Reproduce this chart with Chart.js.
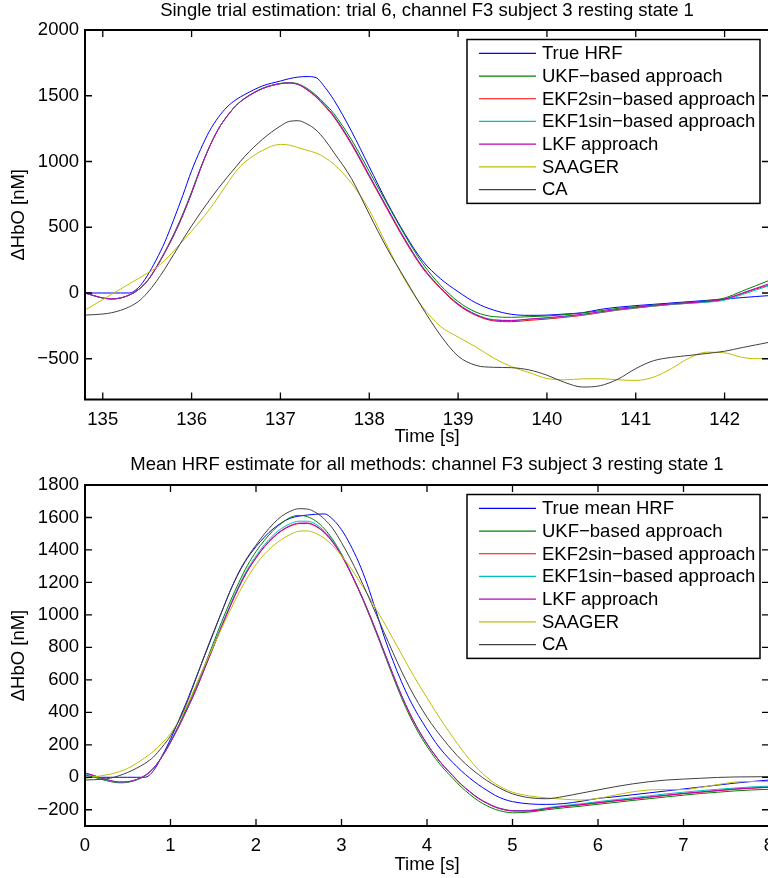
<!DOCTYPE html>
<html>
<head>
<meta charset="utf-8">
<script src="https://cdn.jsdelivr.net/npm/chart.js@4/dist/chart.umd.min.js"></script>
<style>
  html, body { margin:0; padding:0; background:#fff; overflow:hidden; width:768px; height:878px; }
  canvas { position:absolute; left:0; }
  #top { top:0; }
  #bot { top:440px; }
</style>
</head>
<body>
<canvas id="top" width="790" height="450" style="width:790px;height:450px"></canvas>
<canvas id="bot" width="790" height="438" style="width:790px;height:438px"></canvas>
<script>
// ---------- data: single trial (top) ----------
const tTop = [134.8,135.0,135.1,135.2,135.3,135.4,135.5,135.6,135.7,135.8,135.9,136.0,136.1,136.2,136.3,136.4,136.5,136.6,136.8,137.0,137.1,137.2,137.3,137.4,137.5,137.6,137.8,138.0,138.2,138.4,138.6,138.8,139.0,139.2,139.4,139.6,139.8,140.0,140.2,140.4,140.6,140.8,141.0,141.2,141.4,141.6,141.8,142.0,142.2,142.35,142.5];
const trueTop   = [0,0,0,0,0,40,130,250,390,560, 740,930,1090,1230,1335, 1415,1470,1510,1575,1612, 1630,1642,1646,1638,1565, 1470,1230,960,690,450, 245,110,10,-75,-130, -162,-170,-168,-160,-150, -125,-108,-96,-86,-76, -66,-56,-46,-35,-27, -20];
const ukfTop    = [0,-38,-45,-38,-15,25,90,195,315,450, 600,770,950,1110,1245, 1345,1425,1482,1557,1594, 1600,1590,1556,1505,1440, 1365,1165,925,680,440, 225,60,-65,-145,-180, -185,-180,-175,-165,-152, -135,-117,-104,-92,-82, -72,-60,-38,15,55, 95];
const ekf2Top   = [0,-38,-45,-38,-15,25,90,190,310,440, 590,760,945,1110,1245, 1345,1425,1480,1555,1592, 1597,1585,1545,1490,1420, 1340,1130,885,640,400, 190,35,-90,-170,-212, -218,-208,-198,-185,-170, -150,-130,-115,-100,-88, -78,-68,-48,-5,30, 60];
const ekf1Top   = [0,-38,-45,-38,-15,25,90,190,310,440, 590,760,945,1110,1245, 1345,1425,1480,1555,1592, 1597,1587,1550,1496,1428, 1350,1142,898,652,412, 200,42,-82,-162,-203, -208,-200,-192,-180,-166, -147,-128,-113,-99,-87, -78,-70,-55,-12,22, 55];
const lkfTop    = [0,-38,-45,-38,-15,25,90,190,310,440, 590,760,945,1110,1245, 1345,1425,1480,1555,1592, 1597,1586,1548,1494,1425, 1346,1138,893,648,408, 196,40,-85,-165,-206, -210,-198,-188,-176,-162, -143,-124,-109,-95,-83, -74,-64,-45,0,35, 70];
const saagerTop = [-130,-50,-10,30,70,110,150,190,250,320, 395,470,550,635,730, 830,925,995,1085,1130, 1125,1105,1085,1065,1030, 980,835,630,360,100, -105,-253,-335,-410,-495, -560,-605,-650,-660,-653, -652,-660,-665,-640,-575, -495,-450,-455,-490,-500, -498];
const caTop     = [-168,-160,-150,-132,-105,-65,0,85,185,295, 405,510,610,705,795, 880,960,1040,1170,1270, 1305,1310,1285,1240,1165, 1070,870,600,340,110, -115,-320,-480,-550,-565, -568,-585,-625,-680,-715, -705,-655,-575,-515,-490, -475,-460,-443,-415,-395, -375];
const xTicksTop = [135,136,137,138,139,140,141,142];
const yTicksTop = [-500,0,500,1000,1500,2000];

// ---------- data: mean HRF (bottom) ----------
const tBot = [0,0.1,0.2,0.3,0.4,0.5,0.6,0.7,0.8,0.9,1.0,1.1,1.2,1.3,1.4,1.5,1.6,1.7,1.8,1.9,2.0,2.1,2.2,2.3,2.4,2.5,2.6,2.7,2.8,2.9,3.0,3.1,3.2,3.3,3.4,3.5,3.6,3.7,3.8,3.9,4.0,4.1,4.2,4.3,4.4,4.5,4.6,4.7,4.8,4.9,5.0,5.2,5.4,5.6,5.8,6.0,6.2,6.4,6.6,6.8,7.0,7.2,7.4,7.6,7.8,8.0];
const trueBot   = [0,0,0,0,0,0,0,0,40,130, 235,355,480,615,750, 885,1020,1150,1260,1350, 1420,1480,1530,1568,1595, 1608,1615,1620,1622,1588, 1525,1435,1325,1190,1030, 865,720,590,476,380, 295,215,148,92,40, -5,-45,-80,-112,-135, -150, -164,-167,-162,-148,-130, -120,-108,-96,-84,-72, -60,-48,-36,-26,-17];
const ukfBot    = [15,2,-14,-27,-34,-31,-17,8,55,128, 220,325,440,560,690, 825,960,1085,1200,1305, 1390,1460,1520,1565,1600, 1613,1605,1578,1530,1462, 1375,1270,1155,1030,898, 760,623,492,375,275, 190,115,50,-5,-60, -105,-145,-175,-198,-212, -219, -214,-200,-188,-178,-166, -155,-143,-132,-121,-110, -100,-92,-84,-78,-74];
const ekf2Bot   = [25,10,-8,-22,-30,-28,-15,10,55,125, 215,315,425,540,670, 800,930,1055,1170,1270, 1350,1420,1475,1518,1547, 1562,1563,1545,1505,1445, 1365,1265,1155,1035,905, 770,635,505,390,290, 205,130,65,10,-45, -90,-130,-160,-185,-200, -208, -208,-193,-180,-170,-158, -146,-135,-123,-112,-101, -92,-83,-74,-67,-62];
const ekf1Bot   = [22,8,-10,-23,-31,-29,-15,10,55,126, 216,317,428,545,675, 806,937,1063,1180,1282, 1363,1434,1490,1533,1562, 1577,1577,1558,1516,1455, 1373,1272,1160,1038,907, 771,636,506,391,291, 206,131,66,11,-44, -89,-128,-158,-182,-197, -205, -203,-188,-174,-163,-150, -138,-126,-114,-102,-92, -82,-74,-66,-59,-55];
const lkfBot    = [28,12,-6,-20,-29,-27,-14,11,56,126, 216,316,426,542,672, 802,932,1057,1172,1272, 1353,1423,1478,1521,1550, 1565,1566,1548,1508,1448, 1368,1268,1158,1038,908, 772,637,507,392,292, 207,132,67,12,-43, -88,-128,-158,-183,-198, -206, -206,-192,-179,-168,-156, -144,-133,-121,-110,-99, -90,-81,-72,-66,-61];
const saagerBot = [-6,2,10,20,34,55,85,120,160,210, 270,350,450,570,690, 805,920,1030,1135,1230, 1310,1375,1425,1465,1495, 1515,1517,1502,1472,1425, 1365,1295,1215,1130,1040, 950,855,760,665,575, 490,405,325,248,175, 108,48,0,-40,-70, -92, -115,-127,-135,-140,-130, -110,-90,-78,-76,-76, -62,-45,-30,-26,-27];
const caBot     = [-17,-15,-12,-5,10,30,55,85,125,185, 255,350,470,610,755, 890,1020,1150,1265,1355, 1430,1500,1560,1608,1638, 1654,1652,1630,1590,1530, 1445,1350,1245,1130,1010, 890,770,655,550,455, 370,295,228,165,108, 60,18,-20,-52,-80, -102, -126,-132,-118,-98,-78, -58,-41,-27,-17,-11, -6,-1,2,3,4];
const xTicksBot = [0,1,2,3,4,5,6,7,8];
const yTicksBot = [-200,0,200,400,600,800,1000,1200,1400,1600,1800];

const namesTop = ["True HRF","UKF\u2212based approach","EKF2sin\u2212based approach","EKF1sin\u2212based approach","LKF approach","SAAGER","CA"];
const namesBot = ["True mean HRF","UKF\u2212based approach","EKF2sin\u2212based approach","EKF1sin\u2212based approach","LKF approach","SAAGER","CA"];
const colors = ["#0000ff","#008000","#ff0000","#00bfbf","#bf00bf","#bfbf00","#404040"];

const FONT = '"Liberation Sans", Arial, Helvetica, sans-serif';
const FS = 18.5;
Chart.defaults.font.family = FONT;
Chart.defaults.color = "#000";

const fmt = v => String(v).replace("-", "\u2212");

// box round the plot + inward ticks on all four sides
const framePlugin = {
  id: "frame",
  afterDatasetsDraw(chart){
    const {ctx, chartArea:a, scales:{x, y}} = chart;
    ctx.save();
    ctx.strokeStyle = "#000";
    ctx.lineWidth = 1.3;
    ctx.beginPath();
    x.ticks.forEach(t => {
      const px = x.getPixelForValue(t.value);
      ctx.moveTo(px, a.bottom); ctx.lineTo(px, a.bottom - 7);
      ctx.moveTo(px, a.top); ctx.lineTo(px, a.top + 7);
    });
    y.ticks.forEach(t => {
      const py = y.getPixelForValue(t.value);
      ctx.moveTo(a.left, py); ctx.lineTo(a.left + 7, py);
      ctx.moveTo(a.right, py); ctx.lineTo(a.right - 7, py);
    });
    ctx.stroke();
    ctx.lineWidth = 2;
    ctx.strokeRect(a.left, a.top, a.right - a.left, a.bottom - a.top);
    ctx.restore();
  }
};

// boxed legend in the top right corner of the plot
const legendPlugin = {
  id: "boxLegend",
  afterDraw(chart){
    const {ctx, chartArea:a} = chart;
    const ds = chart.data.datasets;
    const rowH = 22.7, w = 293, h = ds.length * rowH + 5;
    const left = a.right - 9 - w, top = a.top + 9.5;
    ctx.save();
    ctx.fillStyle = "#fff";
    ctx.fillRect(left, top, w, h);
    ctx.lineWidth = 1.5; ctx.strokeStyle = "#000";
    ctx.strokeRect(left, top, w, h);
    ctx.font = FS + "px " + FONT;
    ctx.textBaseline = "middle";
    ds.forEach((d, i) => {
      const cy = top + 2.5 + rowH * (i + 0.5);
      ctx.strokeStyle = d.borderColor; ctx.lineWidth = 1.2;
      ctx.beginPath(); ctx.moveTo(left + 12, cy); ctx.lineTo(left + 69, cy); ctx.stroke();
      ctx.fillStyle = "#000";
      ctx.fillText(d.label, left + 75, cy + 0.7);
    });
    ctx.restore();
  }
};

function makeChart(id, c){
  return new Chart(document.getElementById(id), {
    type: "line",
    data: {
      datasets: c.series.map((vals, i) => ({
        label: c.names[i],
        data: c.t.map((t, k) => ({x: t, y: vals[k]})),
        borderColor: colors[i],
        borderWidth: 1,
        pointRadius: 0,
        fill: false,
        cubicInterpolationMode: "monotone",
        order: c.series.length - i
      }))
    },
    options: {
      responsive: false, animation: false, devicePixelRatio: 1, events: [],
      layout: { padding: { left: 0, right: 21, top: 0, bottom: 0 } },
      plugins: {
        legend: { display: false },
        tooltip: { enabled: false },
        title: { display: true, text: c.title, fullSize: false, color: "#000",
                 font: { size: FS, weight: "normal" }, padding: c.titlePad }
      },
      scales: {
        x: {
          type: "linear", min: c.xMin, max: c.xMax,
          afterBuildTicks: s => { s.ticks = c.xTicks.map(v => ({value: v})); },
          afterFit: s => { s.height = c.xH; },
          grid: { display: false, drawTicks: false }, border: { display: false },
          ticks: { color: "#000", font: { size: FS }, padding: 9, autoSkip: false, maxRotation: 0, callback: fmt },
          title: { display: true, text: "Time [s]", color: "#000", font: { size: FS }, padding: { top: 0, bottom: 1.9 } }
        },
        y: {
          type: "linear", min: c.yMin, max: c.yMax,
          afterBuildTicks: s => { s.ticks = c.yTicks.map(v => ({value: v})); },
          afterFit: s => { s.width = 85; },
          grid: { display: false, drawTicks: false }, border: { display: false },
          ticks: { color: "#000", font: { size: FS }, padding: 6, autoSkip: false, callback: fmt },
          title: { display: true, text: "\u0394HbO [nM]", color: "#000", font: { size: FS }, padding: { top: 7.9, bottom: 0 } }
        }
      }
    },
    plugins: [framePlugin, legendPlugin]
  });
}

makeChart("top", {
  title: "Single trial estimation: trial 6, channel F3 subject 3 resting state 1",
  titlePad: { top: 0, bottom: 7.8 },
  t: tTop, names: namesTop,
  series: [trueTop, ukfTop, ekf2Top, ekf1Top, lkfTop, saagerTop, caTop],
  xMin: 134.8, xMax: 142.5, xTicks: xTicksTop, xH: 50.5,
  yMin: -810, yMax: 2000, yTicks: yTicksTop
});

makeChart("bot", {
  title: "Mean HRF estimate for all methods: channel F3 subject 3 resting state 1",
  titlePad: { top: 13.9, bottom: 8.9 },
  t: tBot, names: namesBot,
  series: [trueBot, ukfBot, ekf2Bot, ekf1Bot, lkfBot, saagerBot, caBot],
  xMin: 0, xMax: 8, xTicks: xTicksBot, xH: 52,
  yMin: -300, yMax: 1800, yTicks: yTicksBot
});
</script>
</body>
</html>
